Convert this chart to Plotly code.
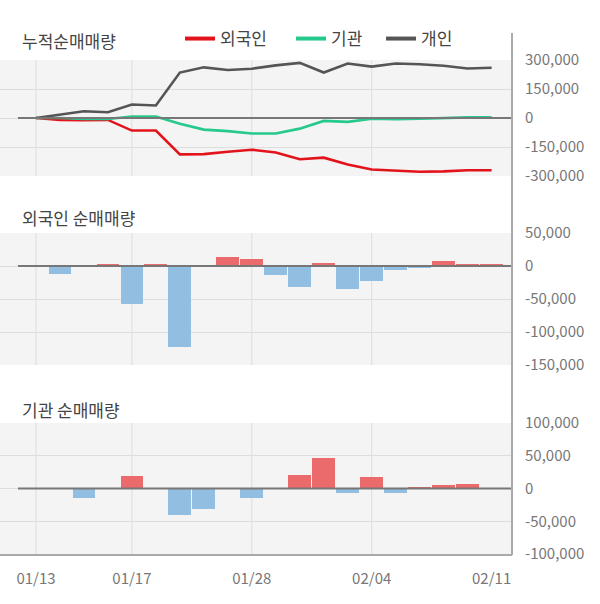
import plotly.graph_objects as go

dates = ["01/13", "01/14", "01/15", "01/16", "01/17", "01/20", "01/21", "01/22", "01/23", "01/28",
         "01/29", "01/30", "01/31", "02/03", "02/04", "02/05", "02/06", "02/07", "02/10", "02/11"]
label_dates = ["01/13", "01/17", "01/28", "02/04", "02/11"]
grid_dates = ["01/13", "01/17", "01/28", "02/04"]

cum_foreign = [0, -10000, -12000, -10000, -65000, -65000, -188000, -187000, -175000, -164000,
               -178000, -213000, -205000, -240000, -266000, -272000, -278000, -276000, -270000, -270000]
cum_inst = [0, 0, -5000, -5000, 8000, 8000, -30000, -60000, -68000, -80000,
            -80000, -55000, -15000, -20000, -4000, -6000, -4000, 0, 3000, 3000]
cum_indiv = [0, 18000, 35000, 30000, 70000, 65000, 235000, 262000, 248000, 255000,
             272000, 285000, 235000, 282000, 266000, 282000, 278000, 270000, 256000, 260000]

foreign_net = [0, -12000, 0, 2500, -57500, 2500, -122500, 0, 13000, 10000,
               -13500, -32000, 4000, -35000, -22500, -6000, -3000, 7000, 2500, 2000]
inst_net = [0, 0, -14000, 0, 18500, 0, -40500, -31500, 0, -14000,
            0, 20000, 46000, -6500, 17000, -6500, 2000, 5000, 6500, 0]

idx = list(range(len(dates)))
POS, NEG = "#eb6a6b", "#92bfe1"
RED, GREEN, GRAY = "#e3131b", "#25c98b", "#555555"
TXT = "#777777"
FONT = "Noto Sans CJK KR"

fig = go.Figure()
legend_x = {"외국인": 180, "기관": 291, "개인": 381}
for k, (name, vals, col) in enumerate([("외국인", cum_foreign, RED), ("기관", cum_inst, GREEN), ("개인", cum_indiv, GRAY)]):
    fig.add_trace(go.Scatter(x=idx, y=vals, mode="lines", line=dict(color=col, width=2.6),
                             showlegend=False, xaxis="x", yaxis="y", hoverinfo="skip"))
    fig.add_trace(go.Scatter(x=[None], y=[None], mode="lines", name=name,
                             line=dict(color=col, width=4), xaxis="x", yaxis="y",
                             legend="legend" if k == 0 else "legend%d" % (k + 1)))

fig.add_trace(go.Bar(x=idx, y=foreign_net, width=0.95,
                     marker=dict(color=[POS if v > 0 else NEG for v in foreign_net], line=dict(width=0)),
                     showlegend=False, xaxis="x2", yaxis="y2"))
fig.add_trace(go.Bar(x=idx, y=inst_net, width=0.95,
                     marker=dict(color=[POS if v > 0 else NEG for v in inst_net], line=dict(width=0)),
                     showlegend=False, xaxis="x3", yaxis="y3"))

XR = [-1.5, 19.85]
XDOM = [0, 512 / 600]

def pdom(top, bot):
    return [1 - bot / 604, 1 - top / 604]

def ytick(vals):
    return ["{:,}".format(v) for v in vals]

common_x = dict(range=XR, domain=XDOM, showgrid=False, zeroline=False, fixedrange=True)
common_y = dict(side="right", gridcolor="#dddddd", zeroline=False, ticks="outside", ticklen=9,
                tickcolor="rgba(0,0,0,0)", tickfont=dict(size=15, color=TXT))
yt1 = [-300000, -150000, 0, 150000, 300000]
yt2 = [-150000, -100000, -50000, 0, 50000]
yt3 = [-100000, -50000, 0, 50000, 100000]

def leg(xpx):
    return dict(orientation="h", x=xpx / 600, xanchor="left", y=1 - 39 / 604, yanchor="middle",
                font=dict(size=17, color="#444444", family=FONT), bgcolor="rgba(0,0,0,0)",
                itemwidth=30)

fig.update_layout(
    width=600, height=604, margin=dict(l=0, r=0, t=0, b=0, autoexpand=False),
    paper_bgcolor="white", plot_bgcolor="#f4f4f4",
    font=dict(family=FONT, color=TXT, size=15),
    bargap=0,
    xaxis=dict(**common_x, anchor="y", showticklabels=False),
    xaxis2=dict(**common_x, anchor="y2", showticklabels=False),
    xaxis3=dict(**common_x, anchor="y3", tickmode="array",
                tickvals=[dates.index(d) for d in label_dates], ticktext=label_dates,
                ticks="outside", ticklen=10, tickcolor="rgba(0,0,0,0)",
                showline=True, linecolor="#aaaaaa", linewidth=2,
                tickfont=dict(size=15, color=TXT)),
    yaxis=dict(**common_y, domain=pdom(60, 176), range=[-300000, 300000], anchor="x",
               tickvals=yt1, ticktext=ytick(yt1)),
    yaxis2=dict(**common_y, domain=pdom(233, 365), range=[-150000, 50000], anchor="x2",
                tickvals=yt2, ticktext=ytick(yt2)),
    yaxis3=dict(**common_y, domain=pdom(423, 554), range=[-100000, 100000], anchor="x3",
                tickvals=yt3, ticktext=ytick(yt3)),
    legend=leg(legend_x["외국인"]),
    legend2=leg(legend_x["기관"]),
    legend3=leg(legend_x["개인"]),
)

shapes = []
for xa, ya in [("x", "y"), ("x2", "y2"), ("x3", "y3")]:
    for d in grid_dates:
        shapes.append(dict(type="line", xref=xa, yref=ya + " domain", x0=dates.index(d), x1=dates.index(d),
                           y0=0, y1=1, line=dict(color="#dddddd", width=1), layer="below"))
    shapes.append(dict(type="line", xref=xa, yref=ya, x0=-0.75, x1=XR[1], y0=0, y1=0,
                       line=dict(color="#777777", width=2), layer="above"))
shapes.append(dict(type="line", xref="paper", yref="paper", x0=512 / 600, x1=512 / 600,
                   y0=1 - 555 / 604, y1=1 - 33 / 604, line=dict(color="#aaaaaa", width=2)))
fig.update_layout(shapes=shapes)

for text, ypx in [("누적순매매량", 41), ("외국인 순매매량", 217), ("기관 순매매량", 409)]:
    fig.add_annotation(text=text, xref="paper", yref="paper", x=20 / 600, y=1 - ypx / 604,
                       xanchor="left", yanchor="middle", showarrow=False,
                       font=dict(size=17, color="#444444", family=FONT))

fig.write_html("out.html")
